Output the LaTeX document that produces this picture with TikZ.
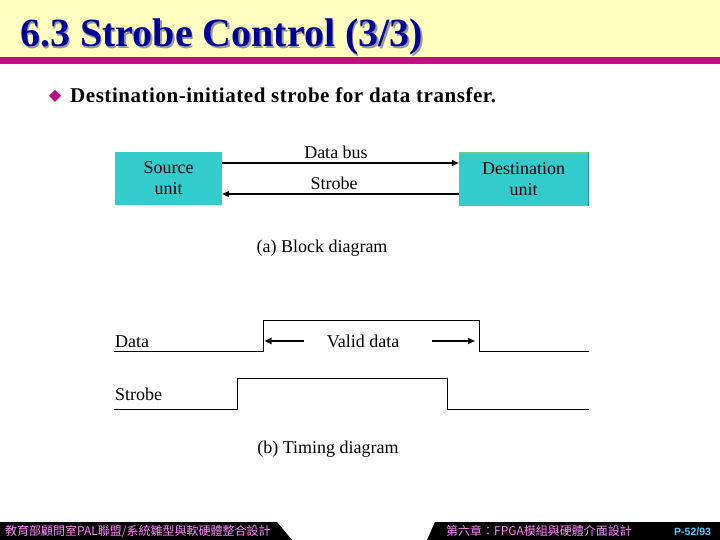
\documentclass[tikz,border=0pt]{standalone}
\usepackage{fontspec}
\setmainfont{Liberation Serif}
\newfontfamily\cjkfont{Noto Sans CJK TC}
\newfontfamily\footsans{Liberation Sans}
\newfontfamily\spacedserif[LetterSpace=2.6]{Liberation Serif}
\usetikzlibrary{arrows.meta}
\definecolor{banner}{HTML}{FFFFC0}
\definecolor{rule}{HTML}{BF1080}
\definecolor{titleblue}{HTML}{000099}
\definecolor{boxcyan}{HTML}{33CCCC}
\definecolor{boxgreen}{HTML}{66CC88}
\definecolor{footpink}{HTML}{FF88FF}
\definecolor{footcyan}{HTML}{55CCFF}
\newcommand{\shadowtitle}[1]{\makebox[0pt][l]{\hspace{1.5pt}\raisebox{-1.5pt}{\color{black!40}#1}}#1}
\tikzset{
  unitbox/.style={fill=boxcyan, minimum width=107pt, minimum height=53pt, inner sep=0pt, align=center, font=\fontsize{18}{21}\selectfont},
  lbl/.style={font=\fontsize{18}{21}\selectfont, inner sep=0pt},
  buswire/.style={line width=1.8pt, -{Triangle[length=7pt,width=6pt]}},
  wave/.style={line width=1pt},
  footjp/.style={font=\cjkfont\fontsize{12}{12}\selectfont, text=footpink, inner sep=0pt, anchor=base west}
}
\begin{document}
\begin{tikzpicture}[x=1pt,y=-1pt]
\useasboundingbox (0,0) rectangle (720,540);
\fill[white] (0,0) rectangle (720,540);
% banner
\fill[banner] (0,0) rectangle (720,57);
\fill[rule] (0,57) rectangle (720,64);
\node[anchor=base west, inner sep=0pt, text=titleblue, font=\bfseries\fontsize{40}{40}\selectfont] (title) at (20,47) {\shadowtitle{6.3 Strobe Control (3/3)}};
% bullet
\fill[rule!90!violet] (49,96) -- (55,90) -- (61,96) -- (55,102) -- cycle;
\node[anchor=base west, inner sep=0pt, font=\spacedserif\bfseries\fontsize{21}{24}\selectfont] (bullet) at (70,103) {Destination-initiated strobe for data transfer.};
% block diagram
\node[unitbox] (src) at (168.5,178.5) {Source\\unit};
\node[unitbox, minimum width=129pt, minimum height=54pt] (dst) at (523.5,179) {Destination\\unit};
\fill[boxgreen] (dst.north west) rectangle ([yshift=-2.5pt]dst.north east);
\draw[boxcyan!70!black, line width=0.8pt] (dst.north east) -- (dst.south east);
\coordinate (s1) at (src.east |- 0,163);
\coordinate (d1) at (dst.west |- 0,163);
\coordinate (s2) at (src.east |- 0,194);
\coordinate (d2) at (dst.west |- 0,194);
\draw[buswire] (s1) -- (d1);
\draw[buswire] (d2) -- (s2);
\node[lbl, anchor=base] (dbus) at (336,159) {Data bus};
\node[lbl, anchor=base] (strb) at (334,190) {Strobe};
\node[lbl, anchor=base] (capa) at (322,252) {(a) Block diagram};
% timing diagram
\node[lbl, anchor=base west] (dlab) at (115,347) {Data};
\node[lbl, anchor=base west] (slab) at (115,400) {Strobe};
\coordinate (da) at (114,351);
\coordinate (db) at (263,351);
\coordinate (dc) at (263,320.5);
\coordinate (dd) at (479,320.5);
\coordinate (de) at (479,351);
\coordinate (df) at (589,351);
\draw[wave] (da) -- (db) -- (dc) -- (dd) -- (de) -- (df);
\coordinate (sa) at (114,409);
\coordinate (sb) at (237,409);
\coordinate (sc) at (237,378.5);
\coordinate (sd) at (447,378.5);
\coordinate (se) at (447,409);
\coordinate (sf) at (589,409);
\draw[wave] (sa) -- (sb) -- (sc) -- (sd) -- (se) -- (sf);
\node[lbl, anchor=base] (valid) at (363,347) {Valid data};
\coordinate (vl1) at (304,341);
\coordinate (vl2) at (264.5,341);
\coordinate (vr1) at (432,341);
\coordinate (vr2) at (475,341);
\draw[buswire] (vl1) -- (vl2);
\draw[buswire] (vr1) -- (vr2);
\node[lbl, anchor=base] (capb) at (328,453) {(b) Timing diagram};
% footer
\fill[black] (0,522) -- (277,522) -- (292,540) -- (0,540) -- cycle;
\fill[black] (435,522) -- (720,522) -- (720,540) -- (427,540) -- cycle;
\node[footjp] (fl) at (5,535) {教育部顧問室PAL聯盟/系統雛型與軟硬體整合設計};
\node[footjp] (fr) at (446,535) {第六章：FPGA模組與硬體介面設計};
\node[anchor=base west, inner sep=0pt, text=footcyan, font=\footsans\bfseries\fontsize{10.5}{11}\selectfont] (pg) at (674,535) {P-52/93};
\end{tikzpicture}
\end{document}
